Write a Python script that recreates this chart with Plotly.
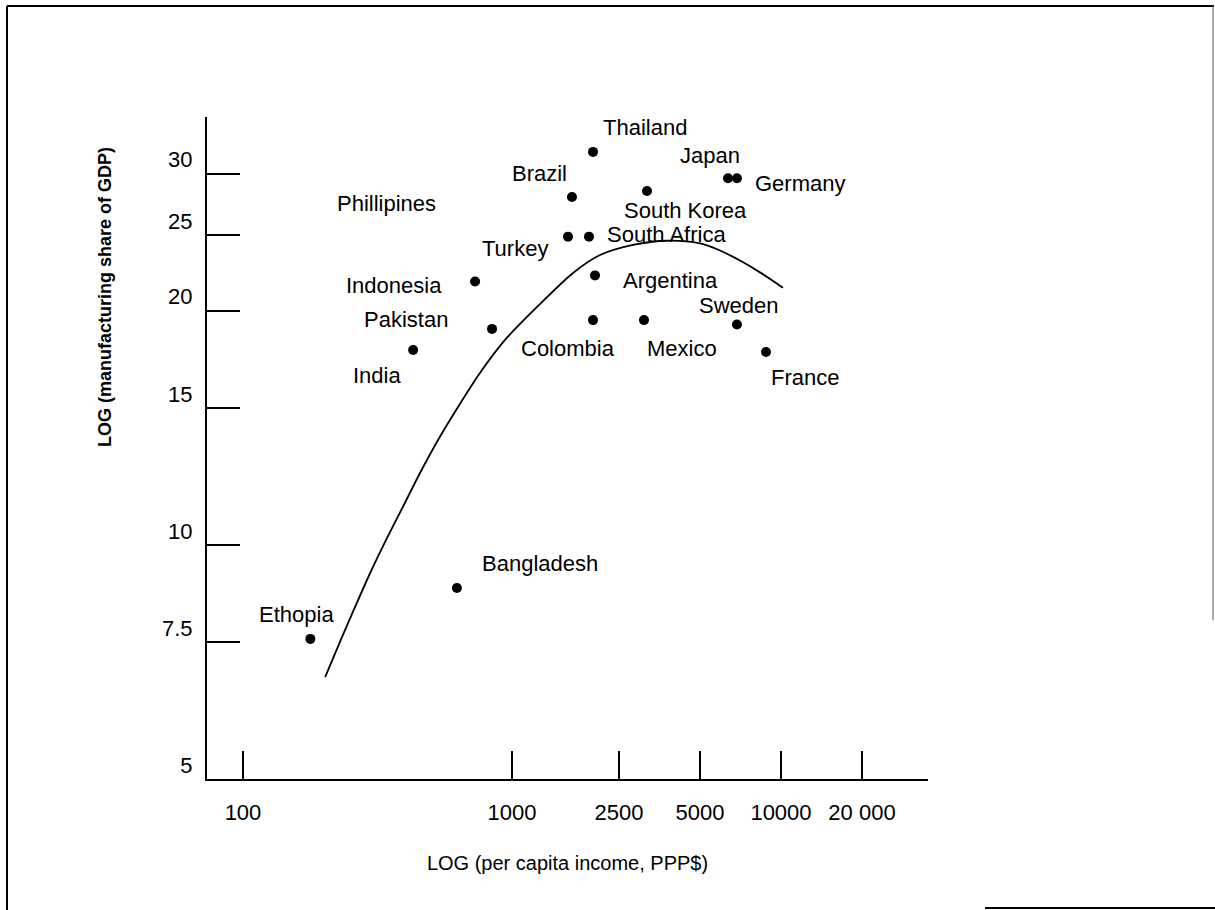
import math
import plotly.graph_objects as go

# ---- data ----
countries = ["Ethopia", "Bangladesh", "India", "Pakistan", "Indonesia", "Turkey",
             "Brazil", "Thailand", "South Africa", "Argentina", "Colombia",
             "South Korea", "Mexico", "Japan", "Germany", "Sweden", "France"]
income = [178, 624, 429, 843, 729, 1615, 1671, 2001, 1933, 2035, 2001,
          3176, 3095, 6353, 6860, 6860, 8796]
manuf_share = [7.57, 8.80, 17.8, 18.95, 21.8, 24.9, 28.0, 32.0, 24.9, 22.2, 19.45,
               28.5, 19.45, 29.6, 29.6, 19.2, 17.7]

curve_income = [202, 231, 261, 297, 340, 393, 455, 531, 630, 760, 942, 1239, 1686,
                2124, 2818, 3769, 5000, 5933, 7041, 8354, 10170]
curve_share = [6.76, 7.55, 8.32, 9.20, 10.14, 11.19, 12.37, 13.64, 15.04, 16.63, 18.34,
               20.22, 22.36, 23.58, 24.30, 24.6, 24.4, 23.9, 23.2, 22.4, 21.4]

x_tickvals = [100, 1000, 2500, 5000, 10000, 20000]
x_ticktext = ["100", "1000", "2500", "5000", "10000", "20 000"]
y_tickvals = [5, 7.5, 10, 15, 20, 25, 30]
y_ticktext = ["5", "7.5", "10", "15", "20", "25", "30"]

# label offsets (pixels) from each dot to its label centre: (dx right, dy up)
label_offsets = {
    "Ethopia": (-14, 24), "Bangladesh": (83, 25), "India": (-36, -25),
    "Pakistan": (-86, 9), "Indonesia": (-81, -4), "Turkey": (-53, -12),
    "Brazil": (-32, 24), "Thailand": (52, 24), "South Africa": (78, 2),
    "Argentina": (75, -5), "Colombia": (-25, -28), "South Korea": (38, -19),
    "Mexico": (38, -28), "Japan": (-18, 23), "Germany": (63, -5),
    "Sweden": (2, 19), "France": (39, -26),
}

FONT = "Liberation Sans, Arial, Helvetica, sans-serif"

fig = go.Figure()
fig.add_trace(go.Scatter(x=curve_income, y=curve_share, mode="lines",
                         line=dict(color="black", width=1.8, shape="spline", smoothing=0.8),
                         hoverinfo="skip", showlegend=False))
fig.add_trace(go.Scatter(x=income, y=manuf_share, mode="markers",
                         marker=dict(color="black", size=10),
                         text=countries, showlegend=False))

for name, xv, yv in zip(countries, income, manuf_share):
    dx, dy = label_offsets[name]
    fig.add_annotation(x=math.log10(xv), y=math.log10(yv), xref="x", yref="y",
                       text=name, showarrow=False, xshift=dx, yshift=dy,
                       font=dict(family=FONT, size=22, color="black"))

# plot area in pixels: x 207..928, y 117..779
L, R, T, B = 207, 928, 117, 779
W, H = R - L, B - T
def px(xp):
    return (xp - L) / W
def py(yp):
    return (B - yp) / H

# Phillipines label (no dot in the original)
fig.add_annotation(x=px(386), y=py(203), xref="paper", yref="paper", text="Phillipines",
                   xanchor="center", yanchor="middle",
                   showarrow=False, font=dict(family=FONT, size=22, color="black"))

# y-axis title, placed higher than the plot centre as in the original
fig.add_annotation(x=px(105), y=py(297), xref="paper", yref="paper",
                   text="<b>LOG (manufacturing share of GDP)</b>", textangle=-90,
                   xanchor="center", yanchor="middle", showarrow=False,
                   font=dict(family=FONT, size=18, color="black"))

# scanned page frame
frame = dict(color="black", width=2)
fig.add_shape(type="line", xref="paper", yref="paper", x0=px(7), y0=py(6), x1=px(1214), y1=py(6), line=frame)
fig.add_shape(type="line", xref="paper", yref="paper", x0=px(7), y0=py(6), x1=px(7), y1=py(910), line=frame)
fig.add_shape(type="line", xref="paper", yref="paper", x0=px(1213), y0=py(5), x1=px(1213), y1=py(620),
              line=dict(color="#555555", width=1))
fig.add_shape(type="line", xref="paper", yref="paper", x0=px(985), y0=py(908), x1=px(1215), y1=py(908), line=frame)

fig.update_xaxes(type="log", range=[1.8662, 4.5465], tickvals=x_tickvals, ticktext=x_ticktext,
                 ticks="inside", ticklen=28, tickwidth=2, tickcolor="black",
                 showline=True, linecolor="black", linewidth=2, showgrid=False, zeroline=False,
                 ticklabelstandoff=13,
                 tickfont=dict(family=FONT, size=22, color="black"),
                 title=dict(text="LOG (per capita income, PPP$)", standoff=32,
                            font=dict(family=FONT, size=20, color="black")))
fig.update_yaxes(type="log", range=[0.69897, 1.5500], tickvals=y_tickvals, ticktext=y_ticktext,
                 ticks="inside", ticklen=33, tickwidth=2, tickcolor="black",
                 showline=True, linecolor="black", linewidth=2, showgrid=False, zeroline=False,
                 ticklabelshift=-14, ticklabelstandoff=8,
                 tickfont=dict(family=FONT, size=22, color="black"))

fig.update_layout(width=1215, height=910, autosize=False,
                  margin=dict(l=L, r=1215 - R, t=T, b=910 - B, pad=0),
                  plot_bgcolor="white", paper_bgcolor="white",
                  font=dict(family=FONT, color="black"))

fig.write_html("out.html", config={"displayModeBar": False},
               post_script="document.body.style.margin='0';document.body.style.padding='0';"
                           "document.body.style.overflow='hidden';")
